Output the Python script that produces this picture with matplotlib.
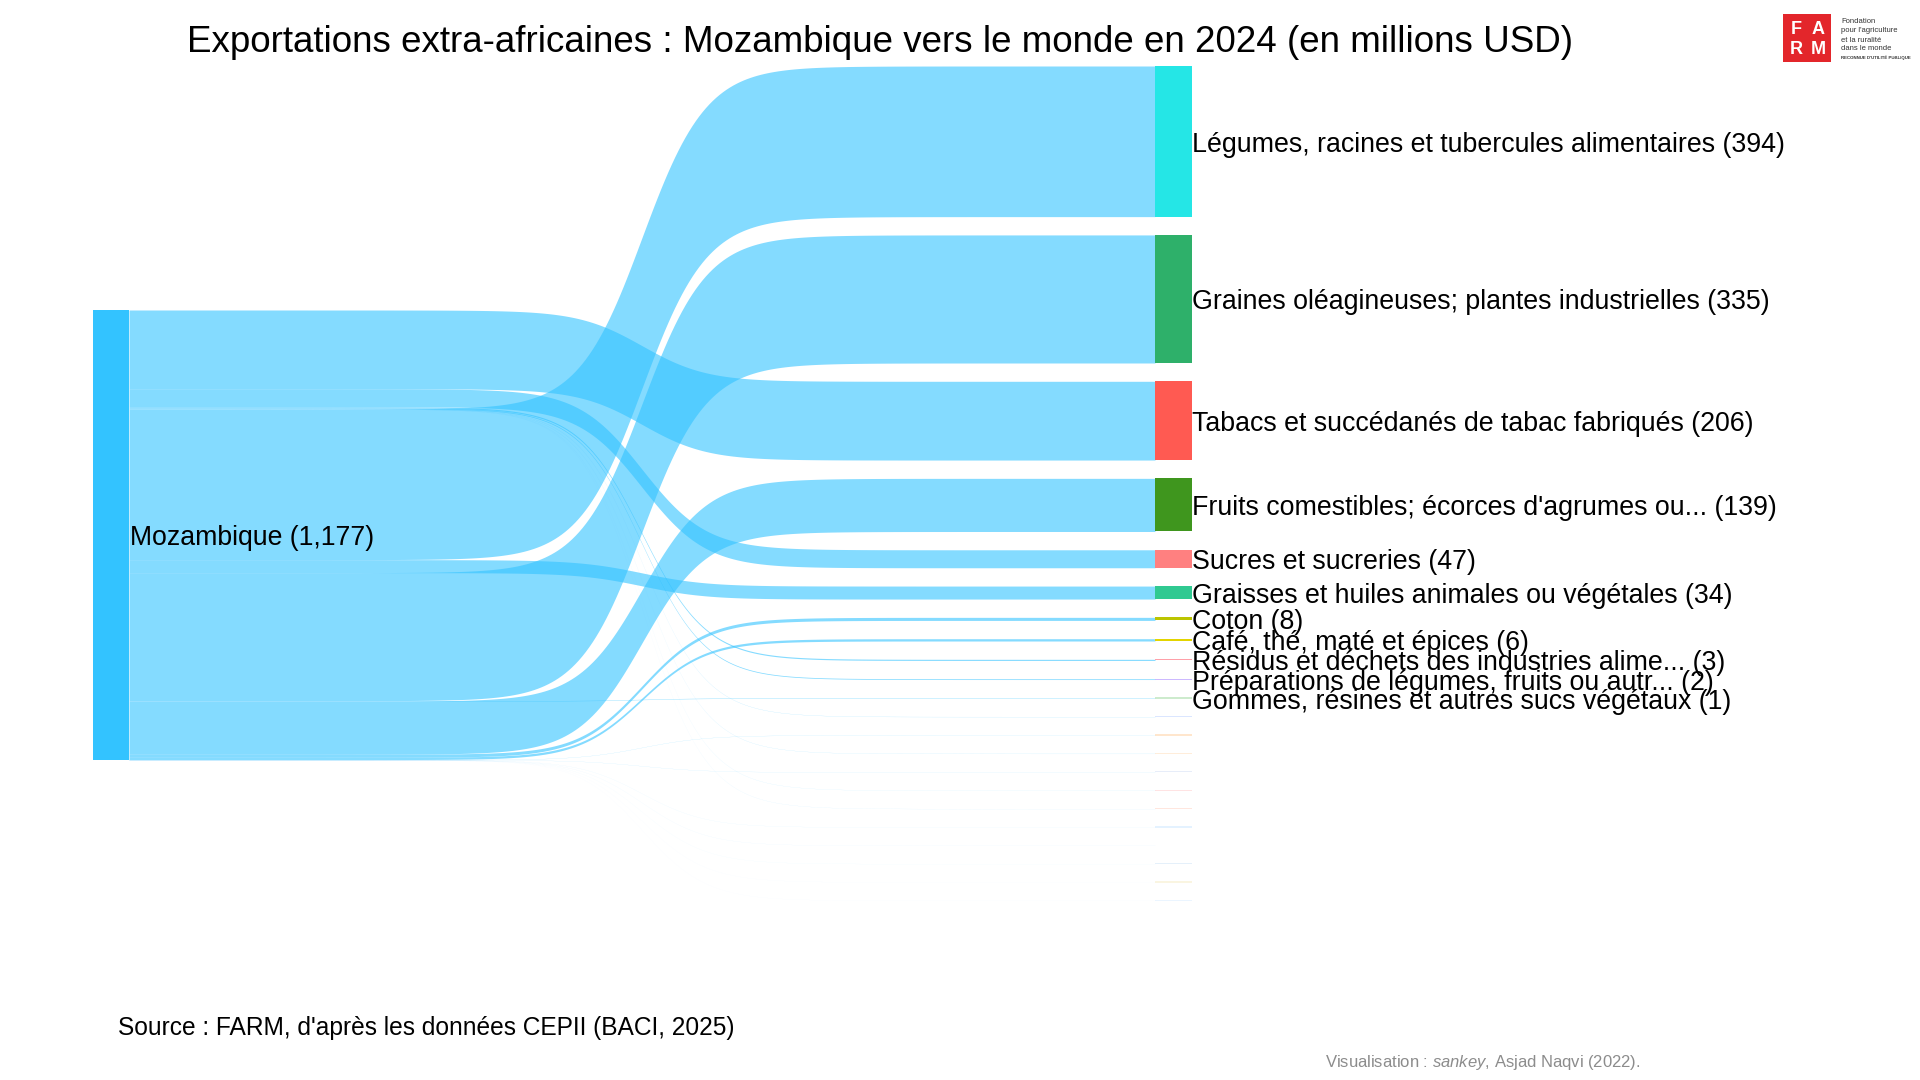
import numpy as np
import matplotlib
matplotlib.use("Agg")
import matplotlib.pyplot as plt
from matplotlib.patches import Rectangle

plt.rcParams["font.family"] = ["Liberation Sans", "DejaVu Sans"]
plt.rcParams["mathtext.fontset"] = "custom"
plt.rcParams["mathtext.rm"] = "Liberation Sans"
plt.rcParams["mathtext.it"] = "Liberation Sans:italic"

# exports of Mozambique outside Africa, 2024, millions USD
origin = "Mozambique"

products = [
    "Légumes, racines et tubercules alimentaires",
    "Graines oléagineuses; plantes industrielles",
    "Tabacs et succédanés de tabac fabriqués",
    "Fruits comestibles; écorces d'agrumes ou...",
    "Sucres et sucreries",
    "Graisses et huiles animales ou végétales",
    "Coton",
    "Café, thé, maté et épices",
    "Résidus et déchets des industries alime...",
    "Préparations de légumes, fruits ou autr...",
    "Gommes, résines et autres sucs végétaux",
    "Céréales",
    "Boissons, liquides alcooliques et vinaigres",
    "Préparations alimentaires diverses",
    "Poissons et crustacés",
    "Plantes vivantes et produits de la floriculture",
    "Produits de la minoterie",
    "Préparations à base de céréales",
    "Cacao et ses préparations",
    "Lait et produits de la laiterie",
    "Viandes et abats comestibles",
    "Animaux vivants",
]
values = [394, 335, 206, 139, 47, 34, 8, 6, 3, 2, 1,
          0.40, 0.35, 0.30, 0.25, 0.20, 0.15, 0.12, 0.10, 0.06, 0.04, 0.03]
node_colors = ["#25E6E6", "#2EB06A", "#FF5A52", "#3F961E", "#FF8080", "#30C991",
               "#BBC400", "#E3D400", "#FFA0A8", "#C4ACFF", "#A8DCA8",
               "#A8C4FF", "#FFC080", "#FFD0A0", "#C0D0F0", "#FFB0B0", "#FFB8A0",
               "#B0D8FF", "#FFFFFF", "#B0D0F0", "#F0E0A0", "#C0E0FF"]

# order in which flows leave the origin node (top to bottom)
left_order = [2, 4, 8, 9, 11, 13, 15, 16, 0, 5, 1, 10, 3, 6, 7,
              12, 14, 17, 18, 19, 20, 21]

source_color = "#33C3FF"
scale = 0.3823        # px per million USD
gap = 18.3            # px between target nodes
node_w = 37
x_left, x_right = 93, 1155
left_top, right_top = 310, 66
label_dy = 3.5        # text sits a little below the node centre

fig = plt.figure(figsize=(19.2, 10.8), dpi=100)
ax = fig.add_axes([0, 0, 1, 1])
ax.set_xlim(0, 1920)
ax.set_ylim(1080, 0)
ax.axis("off")

# target node positions
right_y = []
y = right_top
for v in values:
    right_y.append(y)
    y += v * scale + gap

# source node positions of each flow
left_y = {}
y = left_top
for i in left_order:
    left_y[i] = y
    y += values[i] * scale
total = sum(values)


def sigmoid(t, k=32):
    raw = 1 / (1 + np.exp(-k * (t - 0.5)))
    lo = 1 / (1 + np.exp(k * 0.5))
    hi = 1 / (1 + np.exp(-k * 0.5))
    return (raw - lo) / (hi - lo)


x0 = x_left + node_w - 1
x1 = x_right
t = np.linspace(0, 1, 300)
xs = x0 + (x1 - x0) * t
s = sigmoid(t)
for i in left_order:
    h = values[i] * scale
    top = left_y[i] + (right_y[i] - left_y[i]) * s
    ax.fill_between(xs, top, top + h, color=source_color, alpha=0.6, lw=0)

# nodes
ax.add_patch(Rectangle((x_left, left_top), node_w - 1, total * scale,
                       color=source_color, lw=0))
for i, v in enumerate(values):
    h = v * scale
    if h >= 1:
        ax.add_patch(Rectangle((x_right, right_y[i]), node_w, h,
                               color=node_colors[i], lw=0))
    else:
        ax.add_patch(Rectangle((x_right, right_y[i] + h / 2 - 0.6), node_w, 1.2,
                               color=node_colors[i], alpha=0.3 + 0.7 * h, lw=0))
    if v >= 0.5:
        ax.text(x_right + node_w, right_y[i] + h / 2 + label_dy,
                f"{products[i]} ({v:.0f})", fontsize=19.3,
                va="center", ha="left")

ax.text(x_left + node_w, left_top + total * scale / 2 + label_dy,
        f"{origin} ({total:,.0f})", fontsize=19.2, va="center", ha="left")

ax.text(880, 43, "Exportations extra-africaines : Mozambique vers le monde en 2024 (en millions USD)",
        fontsize=26.5, ha="center", va="center")
ax.text(118, 1027.5, "Source : FARM, d'après les données CEPII (BACI, 2025)",
        fontsize=17.65, ha="left", va="center")
ax.text(1325, 1062.5, r"Visualisation : $\it{sankey}$, Asjad Naqvi (2022).",
        fontsize=12, ha="left", va="center", color="#8C8C8C")

# FARM logo
ax.add_patch(Rectangle((1783, 14), 48, 48, color="#E3262B", lw=0))
for ch, lx, ly in [("F", 1796, 29), ("A", 1818, 29), ("R", 1796, 50), ("M", 1818, 50)]:
    ax.text(lx, ly, ch, color="white", fontsize=13, fontweight="bold",
            ha="center", va="center")
for line, ly in [("Fondation", 21.5), ("pour l'agriculture", 31), ("et la ruralité", 40),
                 ("dans le monde", 49)]:
    ax.text(1841, ly, line, fontsize=5.5, color="#333333", ha="left", va="center")
ax.text(1841, 57.5, "RECONNUE D'UTILITÉ PUBLIQUE", fontsize=3.2, fontweight="bold",
        color="#333333", ha="left", va="center")

fig.savefig("out.png", dpi=100)
